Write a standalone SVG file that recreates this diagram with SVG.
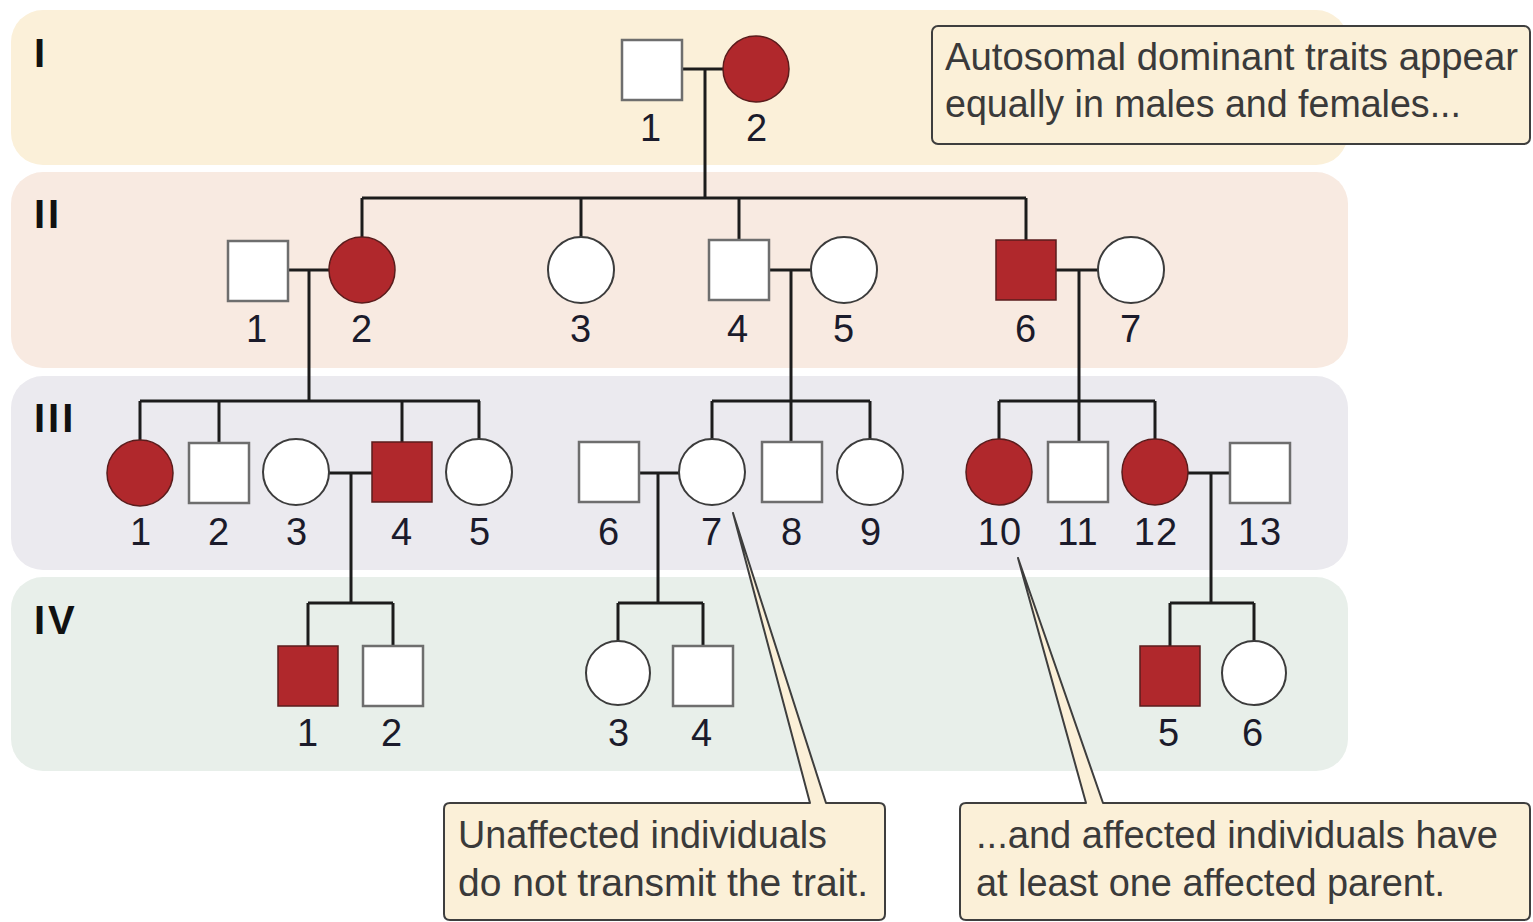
<svg xmlns="http://www.w3.org/2000/svg" width="1533" height="922" viewBox="0 0 1533 922">
  <defs>
    <style>
      .band { stroke: none; }
      .ln { fill: none; stroke: #1c1c1c; stroke-width: 3; stroke-linecap: butt; }
      .sq { fill: #ffffff; stroke: #6e6e6e; stroke-width: 2.5; }
      .ci { fill: #ffffff; stroke: #3c3c3c; stroke-width: 2; }
      .aff { fill: #b0282c; stroke: #5a1c1c; stroke-width: 1.5; }
      .lbl { font-family: "Liberation Sans", Arial, sans-serif; font-size: 38px; fill: #1b1b2b; text-anchor: middle; letter-spacing: 1px; }
      .gen { font-family: "Liberation Sans", Arial, sans-serif; font-size: 40px; font-weight: bold; fill: #111111; letter-spacing: 3px; }
      .box { fill: #fbf0d8; stroke: #3e3e3e; stroke-width: 2; stroke-linejoin: round; }
      .note { font-family: "Liberation Sans", Arial, sans-serif; font-size: 38px; fill: #3a3a3a; }
    </style>
  </defs>

  <!-- generation bands -->
  <g id="bands">
    <rect class="band" x="11" y="10" width="1337" height="155" rx="32" fill="#fbf0d9"/>
    <rect class="band" x="11" y="172" width="1337" height="196" rx="32" fill="#f8eae1"/>
    <rect class="band" x="11" y="376" width="1337" height="194" rx="32" fill="#ebeaef"/>
    <rect class="band" x="11" y="577" width="1337" height="194" rx="32" fill="#e8efea"/>
    <text class="gen" x="34" y="67">I</text>
    <text class="gen" x="34" y="228">II</text>
    <text class="gen" x="34" y="432">III</text>
    <text class="gen" x="34" y="634">IV</text>
  </g>

  <!-- mating, descent and sibship lines -->
  <g id="connectors">
    <!-- generation I -->
    <path class="ln" d="M682 69 H724 M705 69 V198 M362 198 H1026 M362 198 V237 M581 198 V237 M739 198 V240 M1026 198 V240"/>
    <!-- II-1 x II-2 -->
    <path class="ln" d="M288 270 H329 M309 270 V401 M140 401 H480 M140 401 V440 M219 401 V443 M402 401 V442 M479 401 V439"/>
    <!-- II-4 x II-5 -->
    <path class="ln" d="M769 270 H811 M791 270 V442 M712 401 H870 M712 401 V440 M870 401 V440"/>
    <!-- II-6 x II-7 -->
    <path class="ln" d="M1056 270 H1098 M1079 270 V442 M999 401 H1155 M999 401 V439 M1155 401 V439"/>
    <!-- III-3 x III-4 -->
    <path class="ln" d="M329 473 H372 M351 473 V603 M308 603 H393 M308 603 V646 M393 603 V646"/>
    <!-- III-6 x III-7 -->
    <path class="ln" d="M639 473 H679 M658 473 V603 M618 603 H703 M618 603 V641 M703 603 V646"/>
    <!-- III-12 x III-13 -->
    <path class="ln" d="M1188 473 H1230 M1211 473 V603 M1170 603 H1254 M1170 603 V646 M1254 603 V641"/>
  </g>

  <!-- generation I -->
  <g id="I-1"><rect class="sq" x="622" y="40" width="60" height="60"/><text class="lbl" x="651" y="141">1</text></g>
  <g id="I-2"><circle class="aff" cx="756" cy="69" r="33"/><text class="lbl" x="757" y="141">2</text></g>

  <!-- generation II -->
  <g id="II-1"><rect class="sq" x="228" y="241" width="60" height="60"/><text class="lbl" x="257" y="342">1</text></g>
  <g id="II-2"><circle class="aff" cx="362" cy="270" r="33"/><text class="lbl" x="362" y="342">2</text></g>
  <g id="II-3"><circle class="ci" cx="581" cy="270" r="33"/><text class="lbl" x="581" y="342">3</text></g>
  <g id="II-4"><rect class="sq" x="709" y="240" width="60" height="60"/><text class="lbl" x="738" y="342">4</text></g>
  <g id="II-5"><circle class="ci" cx="844" cy="270" r="33"/><text class="lbl" x="844" y="342">5</text></g>
  <g id="II-6"><rect class="aff" x="996" y="240" width="60" height="60"/><text class="lbl" x="1026" y="342">6</text></g>
  <g id="II-7"><circle class="ci" cx="1131" cy="270" r="33"/><text class="lbl" x="1131" y="342">7</text></g>

  <!-- generation III -->
  <g id="III-1"><circle class="aff" cx="140" cy="473" r="33"/><text class="lbl" x="141" y="545">1</text></g>
  <g id="III-2"><rect class="sq" x="189" y="443" width="60" height="60"/><text class="lbl" x="219" y="545">2</text></g>
  <g id="III-3"><circle class="ci" cx="296" cy="472" r="33"/><text class="lbl" x="297" y="545">3</text></g>
  <g id="III-4"><rect class="aff" x="372" y="442" width="60" height="60"/><text class="lbl" x="402" y="545">4</text></g>
  <g id="III-5"><circle class="ci" cx="479" cy="472" r="33"/><text class="lbl" x="480" y="545">5</text></g>
  <g id="III-6"><rect class="sq" x="579" y="442" width="60" height="60"/><text class="lbl" x="609" y="545">6</text></g>
  <g id="III-7"><circle class="ci" cx="712" cy="472" r="33"/><text class="lbl" x="712" y="545">7</text></g>
  <g id="III-8"><rect class="sq" x="762" y="442" width="60" height="60"/><text class="lbl" x="792" y="545">8</text></g>
  <g id="III-9"><circle class="ci" cx="870" cy="472" r="33"/><text class="lbl" x="871" y="545">9</text></g>
  <g id="III-10"><circle class="aff" cx="999" cy="472" r="33"/><text class="lbl" x="1000" y="545">10</text></g>
  <g id="III-11"><rect class="sq" x="1048" y="442" width="60" height="60"/><text class="lbl" x="1078" y="545">11</text></g>
  <g id="III-12"><circle class="aff" cx="1155" cy="472" r="33"/><text class="lbl" x="1156" y="545">12</text></g>
  <g id="III-13"><rect class="sq" x="1230" y="443" width="60" height="60"/><text class="lbl" x="1260" y="545">13</text></g>

  <!-- generation IV -->
  <g id="IV-1"><rect class="aff" x="278" y="646" width="60" height="60"/><text class="lbl" x="308" y="746">1</text></g>
  <g id="IV-2"><rect class="sq" x="363" y="646" width="60" height="60"/><text class="lbl" x="392" y="746">2</text></g>
  <g id="IV-3"><circle class="ci" cx="618" cy="673" r="32"/><text class="lbl" x="619" y="746">3</text></g>
  <g id="IV-4"><rect class="sq" x="673" y="646" width="60" height="60"/><text class="lbl" x="702" y="746">4</text></g>
  <g id="IV-5"><rect class="aff" x="1140" y="646" width="60" height="60"/><text class="lbl" x="1169" y="746">5</text></g>
  <g id="IV-6"><circle class="ci" cx="1254" cy="673" r="32"/><text class="lbl" x="1253" y="746">6</text></g>

  <!-- callouts -->
  <g id="note-sexes">
    <rect class="box" x="932" y="26" width="598" height="118" rx="6"/>
    <text class="note" x="945" y="70" textLength="573" lengthAdjust="spacingAndGlyphs">Autosomal dominant traits appear</text>
    <text class="note" x="945" y="117" textLength="516" lengthAdjust="spacingAndGlyphs">equally in males and females...</text>
  </g>
  <g id="note-unaffected">
    <path class="box" d="M450 803 H810 L733 513 L826 803 H879 Q885 803 885 809 V914 Q885 920 879 920 H450 Q444 920 444 914 V809 Q444 803 450 803 Z"/>
    <text class="note" x="458" y="848" textLength="369" lengthAdjust="spacingAndGlyphs">Unaffected individuals</text>
    <text class="note" x="458" y="896" textLength="410" lengthAdjust="spacingAndGlyphs">do not transmit the trait.</text>
  </g>
  <g id="note-affected">
    <path class="box" d="M966 803 H1086 L1018 558 L1103 803 H1524 Q1530 803 1530 809 V914 Q1530 920 1524 920 H966 Q960 920 960 914 V809 Q960 803 966 803 Z"/>
    <text class="note" x="976" y="848" textLength="522" lengthAdjust="spacingAndGlyphs">...and affected individuals have</text>
    <text class="note" x="976" y="896" textLength="469" lengthAdjust="spacingAndGlyphs">at least one affected parent.</text>
  </g>
</svg>
